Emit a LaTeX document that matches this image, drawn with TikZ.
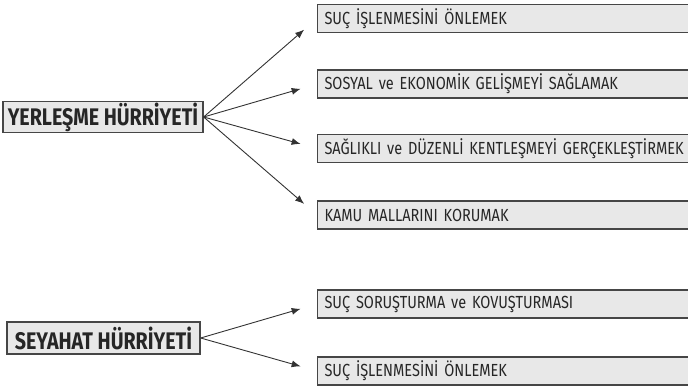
\documentclass[tikz,border=0pt]{standalone}
\usepackage{fontspec}
\setmainfont{Fira Sans}[FakeStretch=0.83,WordSpace=0.8]
\newfontfamily\headfont{Fira Sans}[FakeStretch=0.82]
\usepackage{tikz}
\usetikzlibrary{arrows,arrows.meta,positioning,shapes}

\definecolor{boxfill}{RGB}{232,232,232}
\definecolor{boxline}{RGB}{70,70,70}

\begin{document}
\begin{tikzpicture}[x=1pt,y=1pt,
            freedom/.style={draw=boxline,line width=1.3pt,fill=boxfill,rectangle,align=center,inner sep=0,
              font=\headfont\fontsize{24}{26}\selectfont\bfseries,text=black!85},
            goal/.style={draw=boxline,line width=1.1pt,fill=boxfill,rectangle,anchor=west,
              minimum height=28,text width=372,inner xsep=7,inner ysep=0,align=left,
              font=\fontsize{17.5}{19}\selectfont,text=black!85},
            link/.style={draw=black!80,-{Latex[length=9pt,width=7pt]},line width=.9pt,shorten >=17}
          ]
          \useasboundingbox (0,0) rectangle (688,391);
          %freedoms
          \node[freedom,minimum width=200,minimum height=31] (yer) at (103,274) {YERLEŞME HÜRRİYETİ};
          \node[freedom,minimum width=193,minimum height=32] (sey) at (103.5,53) {SEYAHAT HÜRRİYETİ};

          %goals
          \node[goal] (g1) at (317,372.5) {SUÇ İŞLENMESİNİ ÖNLEMEK};
          \node[goal] (g2) at (317,307) {SOSYAL ve EKONOMİK GELİŞMEYİ SAĞLAMAK};
          \node[goal] (g3) at (317,242.5) {SAĞLIKLI ve DÜZENLİ KENTLEŞMEYİ GERÇEKLEŞTİRMEK};
          \node[goal] (g4) at (317,176) {KAMU MALLARINI KORUMAK};
          \node[goal] (g5) at (317,87) {SUÇ SORUŞTURMA ve KOVUŞTURMASI};
          \node[goal] (g6) at (317,20) {SUÇ İŞLENMESİNİ ÖNLEMEK};

          %arrows
          \foreach \g in {g1,g2,g3,g4}
            \path[link] (yer.east) -- (\g.west);
          \foreach \g in {g5,g6}
            \path[link] (sey.east) -- (\g.west);
      \end{tikzpicture}
\end{document}
